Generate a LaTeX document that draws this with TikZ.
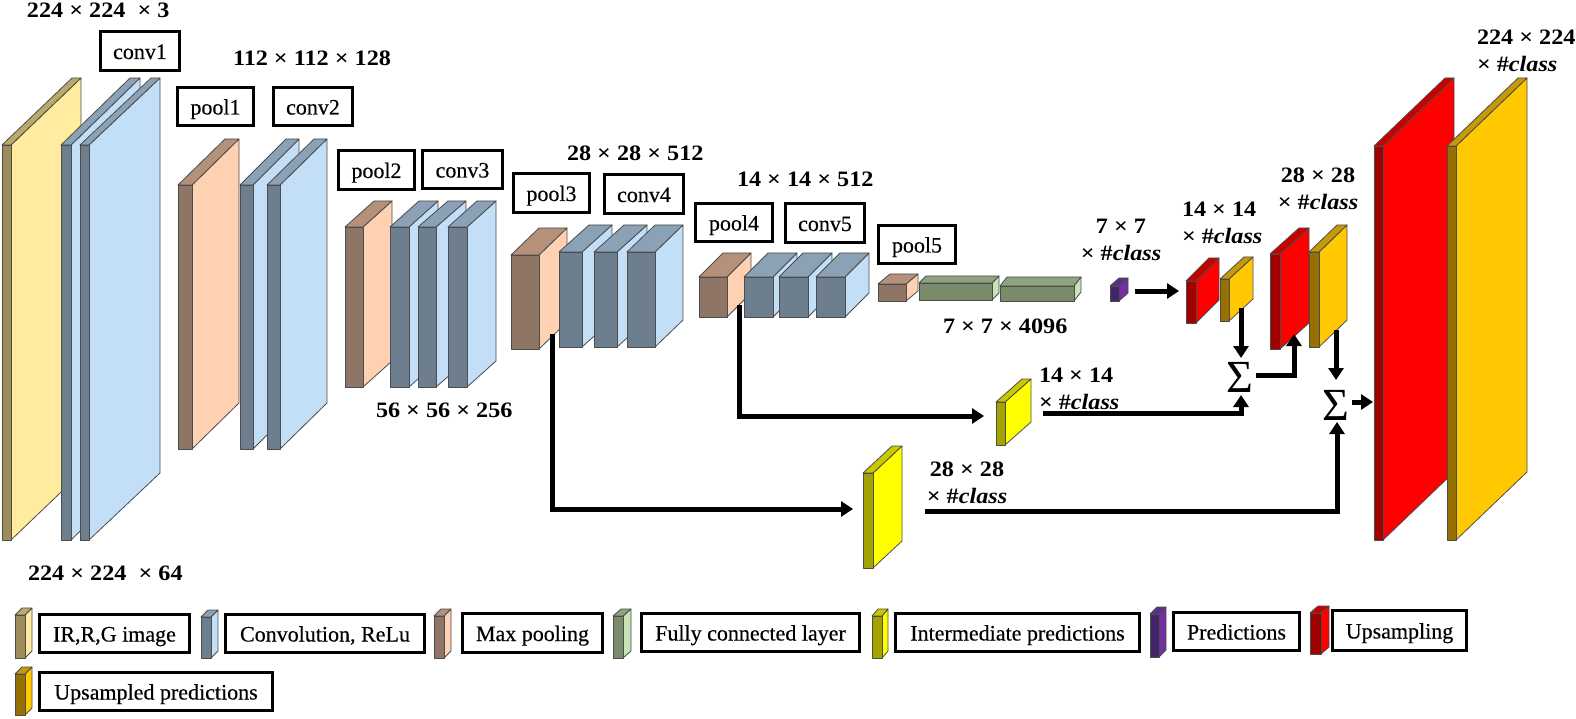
\documentclass[tikz,border=0pt]{standalone}
\usepackage{fontspec}
\setmainfont{Liberation Serif}
\newfontfamily\dimfont[FakeStretch=1.1]{Liberation Serif}
\newfontfamily\lblfont[FakeBold=0.35]{Liberation Serif}
\usetikzlibrary{arrows.meta}
\definecolor{imgD}{HTML}{9E8D5A}\definecolor{imgT}{HTML}{BCA96A}\definecolor{imgL}{HTML}{FFEC9E}
\definecolor{cnvD}{HTML}{6D7F8F}\definecolor{cnvT}{HTML}{8BA2B6}\definecolor{cnvL}{HTML}{C3DEF7}
\definecolor{polD}{HTML}{8F7565}\definecolor{polT}{HTML}{B5917A}\definecolor{polL}{HTML}{FFD1B3}
\definecolor{fcnD}{HTML}{7A8B6B}\definecolor{fcnT}{HTML}{8FA37E}\definecolor{fcnL}{HTML}{C8E3B8}
\definecolor{ipdD}{HTML}{A3A300}\definecolor{ipdT}{HTML}{C9C900}\definecolor{ipdL}{HTML}{FFFF00}
\definecolor{prdD}{HTML}{46246B}\definecolor{prdT}{HTML}{5A2E8A}\definecolor{prdL}{HTML}{7030A0}
\definecolor{upsD}{HTML}{A00000}\definecolor{upsT}{HTML}{C80000}\definecolor{upsL}{HTML}{FF0000}
\definecolor{gldD}{HTML}{967000}\definecolor{gldT}{HTML}{C49A0A}\definecolor{gldL}{HTML}{FFC800}
% family, x0, x1, x2, ytop, yback, ybot
\newcommand{\blk}[7]{%
  \path[blockedge,fill=#1L] (#3,#5) -- (#4,#6) -- (#4,{#7-#5+#6}) -- (#3,#7) -- cycle;
  \path[blockedge,fill=#1T] (#2,#5) -- ({#2+#4-#3},#6) -- (#4,#6) -- (#3,#5) -- cycle;
  \path[blockedge,fill=#1D] (#2,#5) rectangle (#3,#7);
}
% name, x1, y1, x2, y2, text
\newcommand{\bx}[6]{%
  \node[lblbox,minimum width={#4-#2-3},minimum height={#5-#3-3}] (#1) at ({(#2+#4)/2},{(#3+#5)/2}) {#6};
}
\newcommand{\hclass}{× \#\textit{class}}
\tikzset{
  blockedge/.style={draw=black!70,line width=0.8pt,line join=round},
  lblbox/.style={draw=black,line width=3pt,rectangle,inner sep=0pt,outer sep=0pt,
    text height=16pt,text depth=0pt,font=\lblfont\fontsize{22}{24}\selectfont},
  dimlbl/.style={inner sep=0pt,outer sep=0pt,font=\dimfont\bfseries\fontsize{22}{27}\selectfont},
  sumsign/.style={inner sep=0pt,outer sep=0pt,font=\fontsize{46}{46}\selectfont},
  flow/.style={draw=black,line width=5pt,-{Triangle[length=12pt,width=15pt]}},
}
\begin{document}
\begin{tikzpicture}[x=1pt,y=-1pt]
\useasboundingbox (0,0) rectangle (1576,719);
% encoder
\blk{img}{2}{11}{81}{145}{78}{540}
\blk{cnv}{61}{71}{140}{145}{78}{540}
\blk{cnv}{80}{89}{160}{145}{78}{540}
\blk{pol}{178}{192}{239}{185}{139}{449}
\blk{cnv}{240}{253}{299}{185}{139}{449}
\blk{cnv}{267}{280}{327}{185}{139}{449}
\blk{pol}{345}{363}{392}{227}{201}{387}
\blk{cnv}{390}{409}{438}{227}{201}{387}
\blk{cnv}{418}{436}{466}{227}{201}{387}
\blk{cnv}{448}{467}{496}{227}{201}{387}
\blk{pol}{511}{539}{567}{255}{228}{349}
\blk{cnv}{559}{582}{612}{252}{225}{347}
\blk{cnv}{594}{617}{647}{252}{225}{347}
\blk{cnv}{627}{655}{683}{252}{225}{347}
\blk{pol}{699}{727}{751}{277}{253}{317}
\blk{cnv}{744}{773}{797}{277}{253}{317}
\blk{cnv}{779}{808}{832}{277}{253}{317}
\blk{cnv}{816}{845}{869}{277}{253}{317}
\blk{pol}{878}{906}{918}{284}{274}{301}
\blk{fcn}{919}{992}{999}{283}{276}{300}
\blk{fcn}{1000}{1074}{1081}{286}{277}{301}
% decoder
\blk{prd}{1110}{1119}{1128}{286}{278}{301}
\blk{ups}{1186}{1196}{1219}{281}{258}{323}
\blk{gld}{1220}{1229}{1253}{279}{257}{321}
\blk{ups}{1270}{1280}{1309}{254}{228}{349}
\blk{gld}{1309}{1319}{1347}{252}{225}{347}
\blk{ups}{1374}{1383}{1454}{146}{78}{540}
\blk{gld}{1447}{1456}{1527}{146}{78}{540}
\blk{ipd}{996}{1005}{1031}{402}{379}{445}
\blk{ipd}{863}{873}{902}{473}{446}{568}
% layer labels
\bx{conv1}{99}{30}{181}{72}{conv1}
\bx{pool1}{176}{86}{255}{127}{pool1}
\bx{conv2}{272}{86}{354}{127}{conv2}
\bx{pool2}{337}{149}{416}{191}{pool2}
\bx{conv3}{421}{149}{504}{190}{conv3}
\bx{pool3}{512}{172}{591}{214}{pool3}
\bx{conv4}{603}{173}{685}{215}{conv4}
\bx{pool4}{694}{202}{774}{243}{pool4}
\bx{conv5}{784}{202}{866}{244}{conv5}
\bx{pool5}{877}{224}{957}{265}{pool5}
% dimensions
\node[dimlbl,anchor=west] (d1) at (27,10) {224 × 224~~× 3};
\node[dimlbl,anchor=west] (d2) at (233,58) {112 × 112 × 128};
\node[dimlbl,anchor=west] (d3) at (376,410) {56 × 56 × 256};
\node[dimlbl,anchor=west] (d4) at (567,153) {28 × 28 × 512};
\node[dimlbl,anchor=west] (d5) at (737,179) {14 × 14 × 512};
\node[dimlbl,anchor=west] (d6) at (943,326) {7 × 7 × 4096};
\node[dimlbl,anchor=west] (d7) at (28,573) {224 × 224~~× 64};
\node[dimlbl,align=center] (d8) at (1121,240) {7 × 7\\\hclass};
\node[dimlbl,align=left,anchor=west] (d9) at (1182,223) {14 × 14\\\hclass};
\node[dimlbl,align=center] (d10) at (1318,189) {28 × 28\\\hclass};
\node[dimlbl,align=left,anchor=west] (d11) at (1039,389) {14 × 14\\\hclass};
\node[dimlbl,align=center] (d12) at (967,483) {28 × 28\\\hclass};
\node[dimlbl,align=left,anchor=west] (d13) at (1477,51) {224 × 224\\\hclass};
% sums
\node[sumsign] (sumA) at (1240,377) {Σ};
\node[sumsign] (sumB) at (1336,405) {Σ};
% connector ends
\coordinate (pool3out) at (552,334);
\coordinate (ipdBigIn) at (853,509);
\coordinate (pool4out) at (739,305);
\coordinate (ipdSmIn) at (984,416);
\coordinate (ipdSmOut) at (1043,413);
\coordinate (sumAbot) at (1241,395);
\coordinate (ipdBigOut) at (925,511);
\coordinate (sumBbot) at (1337,422);
\coordinate (gldSmOut) at (1241,308);
\coordinate (sumAtop) at (1241,358);
\coordinate (sumAout) at (1256,375);
\coordinate (upsMidIn) at (1294,334);
\coordinate (gldMidOut) at (1336,330);
\coordinate (sumBtop) at (1336,380);
\coordinate (sumBout) at (1352,402);
\coordinate (upsBigIn) at (1373,402);
\coordinate (prdOut) at (1135,291);
\coordinate (upsSmIn) at (1179,291);
% connectors
\draw[flow] (pool3out) |- (ipdBigIn);
\draw[flow] (pool4out) |- (ipdSmIn);
\draw[flow] (ipdSmOut) -| (sumAbot);
\draw[flow] (ipdBigOut) -| (sumBbot);
\draw[flow] (gldSmOut) -- (sumAtop);
\draw[flow] (sumAout) -| (upsMidIn);
\draw[flow] (gldMidOut) -- (sumBtop);
\draw[flow] (sumBout) -- (upsBigIn);
\draw[flow] (prdOut) -- (upsSmIn);
% legend
\blk{img}{15}{25}{32}{615}{608}{658}
\bx{lgA}{38}{613}{191}{654}{IR,R,G image}
\blk{cnv}{201}{211}{218}{617}{610}{658}
\bx{lgB}{224}{613}{426}{654}{Convolution, ReLu}
\blk{pol}{434}{444}{451}{616}{609}{658}
\bx{lgC}{461}{612}{604}{654}{Max pooling}
\blk{fcn}{613}{623}{631}{616}{609}{658}
\bx{lgD}{640}{612}{861}{653}{Fully connected layer}
\blk{ipd}{872}{882}{888}{616}{609}{658}
\bx{lgE}{894}{612}{1141}{653}{Intermediate predictions}
\blk{prd}{1150}{1159}{1166}{614}{607}{657}
\bx{lgF}{1172}{611}{1301}{652}{Predictions}
\blk{ups}{1310}{1321}{1329}{613}{606}{654}
\bx{lgG}{1331}{609}{1468}{652}{Upsampling}
\blk{gld}{15}{25}{32}{674}{667}{715}
\bx{lgH}{38}{671}{274}{712}{Upsampled predictions}
\end{tikzpicture}
\end{document}
